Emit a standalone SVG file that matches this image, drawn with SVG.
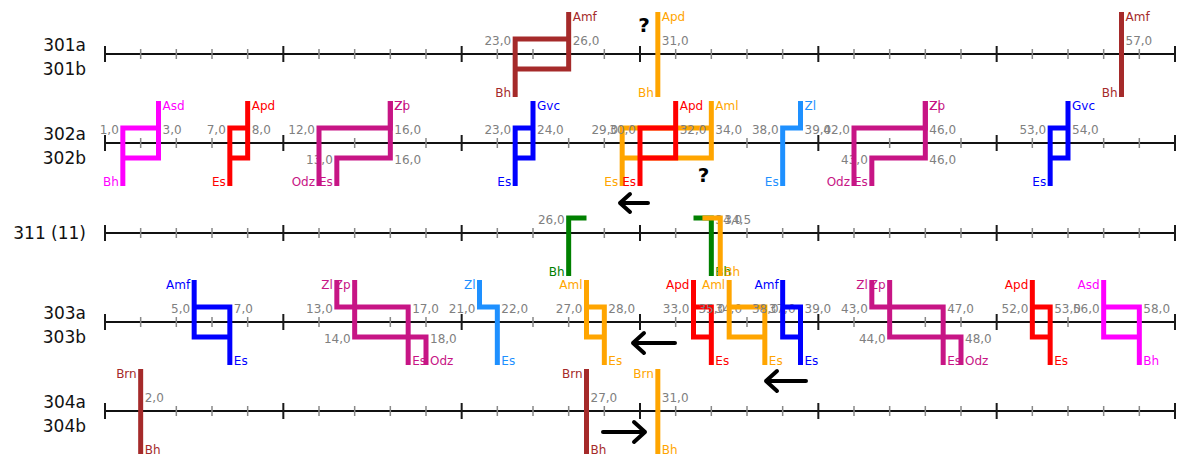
<svg xmlns="http://www.w3.org/2000/svg" width="1179" height="457" viewBox="0 0 1179 457">
<style>
text{font-family:"DejaVu Sans",Verdana,sans-serif}
.ax{stroke:#111;stroke-width:2;fill:none}
.mj{stroke:#1a1a1a;stroke-width:2;fill:none}
.mn{stroke:#888;stroke-width:1.5;fill:none}
.n{font-size:12px;fill:#808080}
.l{font-size:12px}
.e{text-anchor:end}
.row{font-size:17px;fill:#111;text-anchor:end}
.q{font-size:20px;font-weight:bold;fill:#000;text-anchor:middle}
.w{fill:none;stroke-width:5}
.br .w{stroke:#a52a2a}.br .l{fill:#a52a2a}
.or .w{stroke:#ffa500}.or .l{fill:#ffa500}
.mg .w{stroke:#ff00ff}.mg .l{fill:#ff00ff}
.rd .w{stroke:#ff0000}.rd .l{fill:#ff0000}
.vi .w{stroke:#c71585}.vi .l{fill:#c71585}
.bl .w{stroke:#0000ff}.bl .l{fill:#0000ff}
.db .w{stroke:#1e90ff}.db .l{fill:#1e90ff}
.gr .w{stroke:#008000}.gr .l{fill:#008000}
.arr{fill:none;stroke:#000;stroke-width:4;stroke-linecap:round;stroke-linejoin:round}
</style>
<defs>
<g id="axis">
<path class="ax" d="M105 0H1175"/>
<path class="mn" d="M140.67 -5V5M176.33 -5V5M212 -5V5M247.67 -5V5M319 -5V5M354.67 -5V5M390.33 -5V5M426 -5V5M497.33 -5V5M533 -5V5M568.67 -5V5M604.33 -5V5M675.67 -5V5M711.33 -5V5M747 -5V5M782.67 -5V5M854 -5V5M889.67 -5V5M925.33 -5V5M961 -5V5M1032.33 -5V5M1068 -5V5M1103.67 -5V5M1139.33 -5V5"/>
<path class="mj" d="M105 -8V8M283.33 -8V8M461.67 -8V8M640 -8V8M818.33 -8V8M996.67 -8V8M1175 -8V8"/>
</g>
</defs>

<g id="rows">
<text class="row" x="86" y="51">301a</text>
<text class="row" x="86" y="75">301b</text>
<text class="row" x="86" y="140">302a</text>
<text class="row" x="86" y="164">302b</text>
<text class="row" x="86" y="239">311 (11)</text>
<text class="row" x="86" y="319">303a</text>
<text class="row" x="86" y="343">303b</text>
<text class="row" x="86" y="408">304a</text>
<text class="row" x="86" y="432">304b</text>
</g>

<g id="axes">
<use href="#axis" y="54"/>
<use href="#axis" y="143"/>
<use href="#axis" y="233"/>
<use href="#axis" y="322"/>
<use href="#axis" y="411"/>
</g>

<!-- Row 301 -->
<g id="n301-brown-23-26" class="br">
<text class="l" x="572.7" y="21">Amf</text>
<text class="l e" x="511.2" y="97">Bh</text>
<text class="n e" x="511.2" y="45">23,0</text>
<text class="n" x="572.7" y="45">26,0</text>
<path class="w" d="M515.17 97V39H568.67M568.67 12V69H515.17"/>
</g>
<g id="n301-orange-31" class="or">
<text class="l" x="661.8" y="21">Apd</text>
<text class="l e" x="653.8" y="97">Bh</text>
<text class="n" x="661.8" y="45">31,0</text>
<path class="w" d="M657.83 12V97"/>
</g>
<g id="n301-brown-57" class="br">
<text class="l" x="1125.5" y="21">Amf</text>
<text class="l e" x="1117.5" y="97">Bh</text>
<text class="n" x="1125.5" y="45">57,0</text>
<path class="w" d="M1121.5 12V97"/>
</g>
<text id="q1" class="q" x="644" y="32">?</text>

<!-- Row 302 -->
<g id="n302-magenta-1-3" class="mg">
<text class="l" x="162.5" y="110">Asd</text>
<text class="l e" x="118.8" y="186">Bh</text>
<text class="n e" x="118.8" y="134">1,0</text>
<text class="n" x="162.5" y="134">3,0</text>
<path class="w" d="M122.83 186V128H158.5M158.5 101V158H122.83"/>
</g>
<g id="n302-red-7-8" class="rd">
<text class="l" x="251.7" y="110">Apd</text>
<text class="l e" x="225.8" y="186">Es</text>
<text class="n e" x="225.8" y="134">7,0</text>
<text class="n" x="251.7" y="134">8,0</text>
<path class="w" d="M229.83 186V128H247.67M247.67 101V158H229.83"/>
</g>
<g id="n302-violet-13-16" class="vi">
<text class="l" x="394.3" y="110">Zl</text>
<text class="l e" x="332.8" y="186">Es</text>
<text class="n e" x="332.8" y="164">13,0</text>
<text class="n" x="394.3" y="164">16,0</text>
<path class="w" d="M336.83 186V158H390.33V101"/>
</g>
<g id="n302-violet-12-16" class="vi">
<text class="l" x="394.3" y="110">Zp</text>
<text class="l e" x="315" y="186">Odz</text>
<text class="n e" x="315" y="134">12,0</text>
<text class="n" x="394.3" y="134">16,0</text>
<path class="w" d="M319 186V128H390.33V101"/>
</g>
<g id="n302-blue-23-24" class="bl">
<text class="l" x="537" y="110">Gvc</text>
<text class="l e" x="511.2" y="186">Es</text>
<text class="n e" x="511.2" y="134">23,0</text>
<text class="n" x="537" y="134">24,0</text>
<path class="w" d="M515.17 186V128H533M533 101V158H515.17"/>
</g>
<g id="n302-orange-29-34" class="or">
<text class="l" x="715.3" y="110">Aml</text>
<text class="l e" x="618.2" y="186">Es</text>
<text class="n e" x="618.2" y="134">29,0</text>
<text class="n" x="715.3" y="134">34,0</text>
<path class="w" d="M622.17 186V128H711.33M711.33 101V158H622.17"/>
</g>
<g id="n302-red-30-32" class="rd">
<text class="l" x="679.7" y="110">Apd</text>
<text class="l e" x="636" y="186">Es</text>
<text class="n e" x="636" y="134">30,0</text>
<text class="n" x="679.7" y="134">32,0</text>
<path class="w" d="M640 186V128H675.67M675.67 101V158H640"/>
</g>
<g id="n302-dodger-38-39" class="db">
<text class="l" x="804.5" y="110">Zl</text>
<text class="l e" x="778.7" y="186">Es</text>
<text class="n e" x="778.7" y="134">38,0</text>
<text class="n" x="804.5" y="134">39,0</text>
<path class="w" d="M782.67 186V128H800.5V101"/>
</g>
<g id="n302-violet-43-46" class="vi">
<text class="l" x="929.3" y="110">Zl</text>
<text class="l e" x="867.8" y="186">Es</text>
<text class="n e" x="867.8" y="164">43,0</text>
<text class="n" x="929.3" y="164">46,0</text>
<path class="w" d="M871.83 186V158H925.33V101"/>
</g>
<g id="n302-violet-42-46" class="vi">
<text class="l" x="929.3" y="110">Zp</text>
<text class="l e" x="850" y="186">Odz</text>
<text class="n e" x="850" y="134">42,0</text>
<text class="n" x="929.3" y="134">46,0</text>
<path class="w" d="M854 186V128H925.33V101"/>
</g>
<g id="n302-blue-53-54" class="bl">
<text class="l" x="1072" y="110">Gvc</text>
<text class="l e" x="1046.2" y="186">Es</text>
<text class="n e" x="1046.2" y="134">53,0</text>
<text class="n" x="1072" y="134">54,0</text>
<path class="w" d="M1050.17 186V128H1068M1068 101V158H1050.17"/>
</g>
<text id="q2" class="q" x="703.5" y="182">?</text>

<!-- Row 311 -->
<g id="n311-green-26" class="gr">
<text class="n e" x="564.7" y="224">26,0</text>
<text class="l e" x="564.7" y="276">Bh</text>
<path class="w" d="M586.5 218H568.67V276"/>
</g>
<g id="n311-green-34" class="gr">
<text class="n" x="715.3" y="224">34,0</text>
<text class="l" x="715.3" y="276">Bh</text>
<path class="w" d="M693.5 218H711.33V276"/>
</g>
<g id="n311-orange-34-5" class="or">
<text class="n" x="724.3" y="224">34,5</text>
<text class="l" x="724.3" y="276">Bh</text>
<path class="w" d="M702.42 218H720.25V276"/>
</g>

<!-- Row 303 -->
<g id="n303-blue-5-7" class="bl">
<text class="l e" x="190.2" y="289">Amf</text>
<text class="n e" x="190.2" y="313">5,0</text>
<text class="n" x="233.8" y="313">7,0</text>
<text class="l" x="233.8" y="365">Es</text>
<path class="w" d="M194.17 280V337H229.83M229.83 365V307H194.17"/>
</g>
<g id="n303-violet-14-18" class="vi">
<text class="l e" x="350.7" y="289">Zp</text>
<text class="n e" x="350.7" y="343">14,0</text>
<text class="n" x="430" y="343">18,0</text>
<text class="l" x="430" y="365">Odz</text>
<path class="w" d="M354.67 280V337H426V365"/>
</g>
<g id="n303-violet-13-17" class="vi">
<text class="l e" x="332.8" y="289">Zl</text>
<text class="n e" x="332.8" y="313">13,0</text>
<text class="n" x="412.2" y="313">17,0</text>
<text class="l" x="412.2" y="365">Es</text>
<path class="w" d="M336.83 280V307H408.17V365"/>
</g>
<g id="n303-dodger-21-22" class="db">
<text class="l e" x="475.5" y="289">Zl</text>
<text class="n e" x="475.5" y="313">21,0</text>
<text class="n" x="501.3" y="313">22,0</text>
<text class="l" x="501.3" y="365">Es</text>
<path class="w" d="M479.5 280V307H497.33V365"/>
</g>
<g id="n303-orange-27-28" class="or">
<text class="l e" x="582.5" y="289">Aml</text>
<text class="n e" x="582.5" y="313">27,0</text>
<text class="n" x="608.3" y="313">28,0</text>
<text class="l" x="608.3" y="365">Es</text>
<path class="w" d="M586.5 280V337H604.33M604.33 365V307H586.5"/>
</g>
<g id="n303-red-33-34" class="rd">
<text class="l e" x="689.5" y="289">Apd</text>
<text class="n e" x="689.5" y="313">33,0</text>
<text class="n" x="715.3" y="313">34,0</text>
<text class="l" x="715.3" y="365">Es</text>
<path class="w" d="M693.5 280V337H711.33M711.33 365V307H693.5"/>
</g>
<g id="n303-orange-35-37" class="or">
<text class="l e" x="725.2" y="289">Aml</text>
<text class="n e" x="725.2" y="313">35,0</text>
<text class="n" x="768.8" y="313">37,0</text>
<text class="l" x="768.8" y="365">Es</text>
<path class="w" d="M729.17 280V337H764.83M764.83 365V307H729.17"/>
</g>
<g id="n303-blue-38-39" class="bl">
<text class="l e" x="778.7" y="289">Amf</text>
<text class="n e" x="778.7" y="313">38,0</text>
<text class="n" x="804.5" y="313">39,0</text>
<text class="l" x="804.5" y="365">Es</text>
<path class="w" d="M782.67 280V337H800.5M800.5 365V307H782.67"/>
</g>
<g id="n303-violet-44-48" class="vi">
<text class="l e" x="885.7" y="289">Zp</text>
<text class="n e" x="885.7" y="343">44,0</text>
<text class="n" x="965" y="343">48,0</text>
<text class="l" x="965" y="365">Odz</text>
<path class="w" d="M889.67 280V337H961V365"/>
</g>
<g id="n303-violet-43-47" class="vi">
<text class="l e" x="867.8" y="289">Zl</text>
<text class="n e" x="867.8" y="313">43,0</text>
<text class="n" x="947.2" y="313">47,0</text>
<text class="l" x="947.2" y="365">Es</text>
<path class="w" d="M871.83 280V307H943.17V365"/>
</g>
<g id="n303-red-52-53" class="rd">
<text class="l e" x="1028.3" y="289">Apd</text>
<text class="n e" x="1028.3" y="313">52,0</text>
<text class="n" x="1054.2" y="313">53,0</text>
<text class="l" x="1054.2" y="365">Es</text>
<path class="w" d="M1032.33 280V337H1050.17M1050.17 365V307H1032.33"/>
</g>
<g id="n303-magenta-56-58" class="mg">
<text class="l e" x="1099.7" y="289">Asd</text>
<text class="n e" x="1099.7" y="313">56,0</text>
<text class="n" x="1143.3" y="313">58,0</text>
<text class="l" x="1143.3" y="365">Bh</text>
<path class="w" d="M1103.67 280V337H1139.33M1139.33 365V307H1103.67"/>
</g>

<!-- Row 304 -->
<g id="n304-brown-2" class="br">
<text class="l e" x="136.7" y="378">Brn</text>
<text class="n" x="144.7" y="402">2,0</text>
<text class="l" x="144.7" y="454">Bh</text>
<path class="w" d="M140.67 369V454"/>
</g>
<g id="n304-brown-27" class="br">
<text class="l e" x="582.5" y="378">Brn</text>
<text class="n" x="590.5" y="402">27,0</text>
<text class="l" x="590.5" y="454">Bh</text>
<path class="w" d="M586.5 369V454"/>
</g>
<g id="n304-orange-31" class="or">
<text class="l e" x="653.8" y="378">Brn</text>
<text class="n" x="661.8" y="402">31,0</text>
<text class="l" x="661.8" y="454">Bh</text>
<path class="w" d="M657.83 369V454"/>
</g>

<g id="connectors">
<path class="arr" d="M648 203H620M630 194L620 203L630 212"/>
<path class="arr" d="M675 343H633M644 333L633 343L644 353"/>
<path class="arr" d="M806 381H766M777 371L766 381L777 391"/>
<path class="arr" d="M603 432H645M634 422L645 432L634 442"/>
</g>
</svg>
